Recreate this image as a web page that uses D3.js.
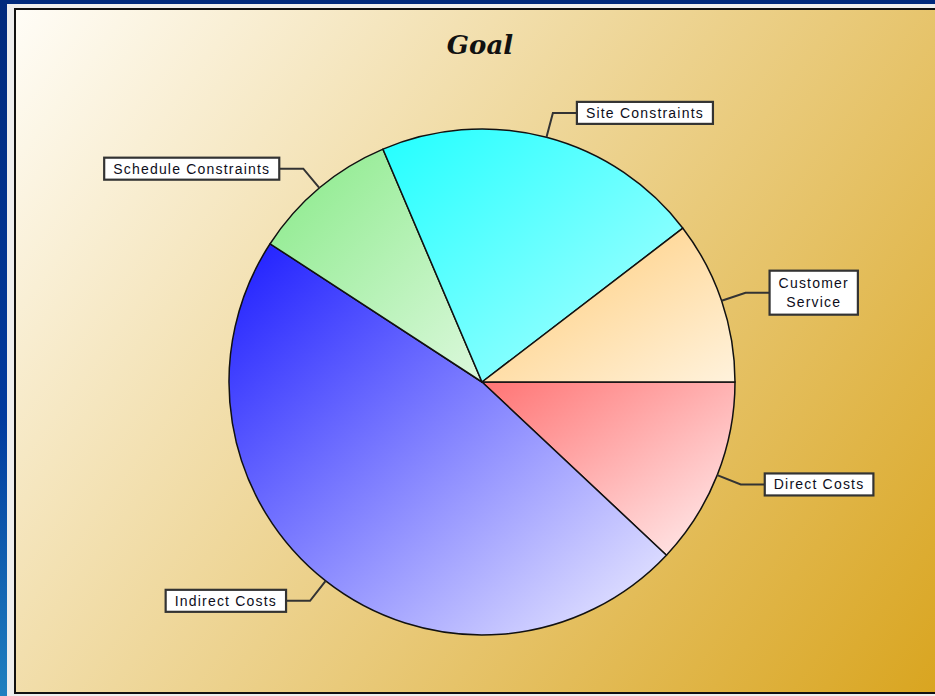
<!DOCTYPE html>
<html>
<head>
<meta charset="utf-8">
<script src="https://cdn.jsdelivr.net/npm/d3@7"></script>
<style>
  html, body { margin: 0; padding: 0; overflow: hidden; background: #002a7f; }
  svg { display: block; }
</style>
</head>
<body>
<svg id="chart" width="935" height="696"></svg>
<script>
// Share of the goal by category, clockwise from 3 o'clock
const categories = ["Direct Costs", "Indirect Costs", "Schedule Constraints", "Site Constraints", "Customer Service"];
const values = [12.0, 47.2, 9.4, 21.0, 10.4];
const labelLines = [["Direct Costs"], ["Indirect Costs"], ["Schedule Constraints"], ["Site Constraints"], ["Customer", "Service"]];
const chartTitle = "Goal";

// Slice fills: each runs from a strong tone (top-left) to a pale tone (bottom-right)
const sliceStart = ["#ff7474", "#1c1cff", "#88ea88", "#22ffff", "#ffca74"];
const sliceEnd   = ["#fff0f0", "#eeeeff", "#dcf8dc", "#b0ffff", "#fff2dc"];

const W = 935, H = 696;
const svg = d3.select("#chart");
const defs = svg.append("defs");

// Blue slide backdrop
const bg = defs.append("linearGradient").attr("id", "backdrop")
  .attr("x1", 0).attr("y1", 0).attr("x2", 0).attr("y2", 1);
bg.append("stop").attr("offset", "0%").attr("stop-color", "#00297c");
bg.append("stop").attr("offset", "60%").attr("stop-color", "#003a9e");
bg.append("stop").attr("offset", "100%").attr("stop-color", "#1f80c0");
svg.append("rect").attr("width", W).attr("height", H).attr("fill", "url(#backdrop)");

// Chart panel: white to goldenrod along the diagonal
const px0 = 15, py0 = 9, px1 = 940, py1 = 693;
const pg = defs.append("linearGradient").attr("id", "panel")
  .attr("gradientUnits", "userSpaceOnUse")
  .attr("x1", px0).attr("y1", py0).attr("x2", 935).attr("y2", py1);
pg.append("stop").attr("offset", "0%").attr("stop-color", "#fffdf7");
pg.append("stop").attr("offset", "100%").attr("stop-color", "#d9a520");

svg.append("rect").attr("x", 7).attr("y", 4).attr("width", W).attr("height", H)
  .attr("fill", "#eeeeee");
svg.append("rect").attr("x", px0).attr("y", py0)
  .attr("width", px1 - px0).attr("height", py1 - py0)
  .attr("fill", "url(#panel)").attr("stroke", "#111").attr("stroke-width", 2);

// Title
svg.append("text")
  .attr("x", 480).attr("y", 54)
  .attr("text-anchor", "middle")
  .attr("font-family", "'DejaVu Serif', serif")
  .attr("font-weight", "bold").attr("font-style", "italic")
  .attr("font-size", 26).attr("fill", "#111")
  .text(chartTitle);

// Pie
const cx = 482, cy = 382, r = 253;
const data = categories.map((c, i) => ({ category: c, value: values[i], lines: labelLines[i], i }));
const pie = d3.pie().sort(null).value(d => d.value)
  .startAngle(Math.PI / 2).endAngle(Math.PI / 2 + 2 * Math.PI);
const arcs = pie(data);
const arc = d3.arc().innerRadius(0).outerRadius(r);

arcs.forEach((a, i) => {
  const g = defs.append("linearGradient").attr("id", "slice" + i)
    .attr("x1", 0).attr("y1", 0).attr("x2", 1).attr("y2", 1);
  g.append("stop").attr("offset", "0%").attr("stop-color", sliceStart[i]);
  g.append("stop").attr("offset", "100%").attr("stop-color", sliceEnd[i]);
});

const pieG = svg.append("g").attr("transform", `translate(${cx},${cy})`);
pieG.selectAll("path.slice").data(arcs).join("path")
  .attr("class", "slice")
  .attr("d", arc)
  .attr("fill", (d, i) => `url(#slice${i})`)
  .attr("stroke", "#111").attr("stroke-width", 1.5)
  .attr("stroke-linejoin", "round");

// Callout labels with elbow leaders
const elbowR = r * 1.1, run = 24, padX = 9, lineH = 19, boxH1 = 22;
const labelG = svg.append("g");
arcs.forEach(a => {
  const mid = (a.startAngle + a.endAngle) / 2;
  const sx = cx + r * Math.sin(mid), sy = cy - r * Math.cos(mid);
  const ex = cx + elbowR * Math.sin(mid), ey = cy - elbowR * Math.cos(mid);
  const dir = Math.sin(mid) >= 0 ? 1 : -1;
  const bx = ex + dir * run;

  labelG.append("polyline")
    .attr("points", `${sx},${sy} ${ex},${ey} ${bx},${ey}`)
    .attr("fill", "none").attr("stroke", "#333").attr("stroke-width", 2);

  const lines = a.data.lines;
  const t = labelG.append("text")
    .attr("font-family", "'Liberation Sans', Arial, sans-serif")
    .attr("font-size", 14).attr("letter-spacing", 1.2)
    .attr("fill", "#0d0d1a").attr("text-anchor", "middle");
  lines.forEach((ln, k) => t.append("tspan").attr("x", 0).attr("dy", k === 0 ? 0 : lineH).text(ln));
  const tw = t.node().getBBox().width;
  const bw = tw + 2 * padX;
  const bh = boxH1 + (lines.length - 1) * lineH + (lines.length > 1 ? 3 : 0);
  const bxLeft = dir > 0 ? bx : bx - bw;
  const byTop = ey - bh / 2;

  labelG.insert("rect", () => t.node())
    .attr("x", bxLeft).attr("y", byTop).attr("width", bw).attr("height", bh)
    .attr("fill", "#fff").attr("stroke", "#333").attr("stroke-width", 2.2);
  const firstBase = byTop + (bh - (lines.length - 1) * lineH) / 2 + 5;
  t.attr("transform", `translate(${bxLeft + bw / 2},${firstBase})`);
});
</script>
</body>
</html>
